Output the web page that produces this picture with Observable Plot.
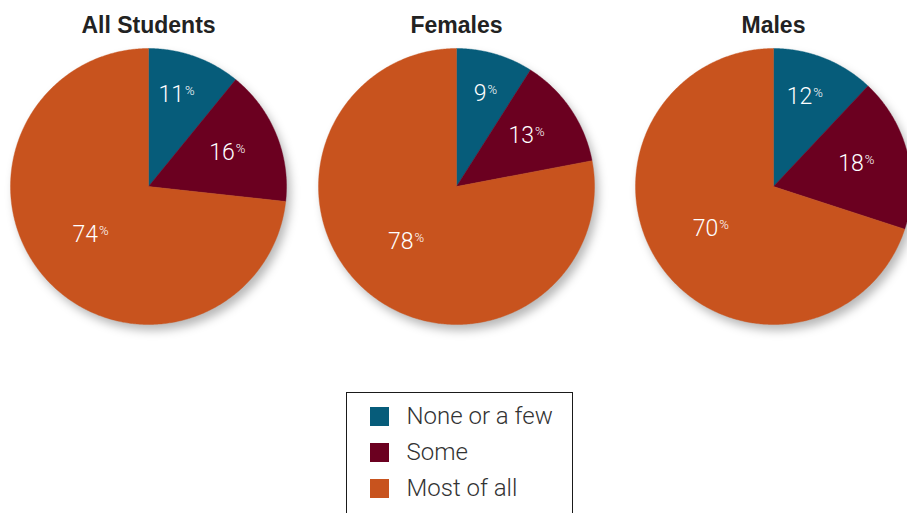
<!DOCTYPE html>
<html><head><meta charset="utf-8">
<script src="https://cdn.jsdelivr.net/npm/d3@7"></script>
<script src="https://cdn.jsdelivr.net/npm/@observablehq/plot@0.6"></script>
<style>
body{margin:0;background:#fff;overflow:hidden;width:907px;height:513px;position:relative}
#chart svg .shadow circle{filter:blur(5px)}
.legend{position:absolute;left:346px;top:392px;width:227px;height:140px;box-sizing:border-box;border:1.5px solid #1a1a1a;padding-top:5px;font-family:Roboto,"Liberation Sans",sans-serif;font-weight:300;font-size:24px;color:#333}
.legend .row{display:flex;align-items:center;height:36px}
.legend .sw{width:19px;height:19px;margin-left:22.5px;margin-right:18px;flex:none}
</style></head>
<body><div id="chart"></div><div class="legend" id="legend"></div>
<script>
// ---- data ----
const groups = ["All Students", "Females", "Males"];
const categories = ["None or a few", "Some", "Most of all"];
const noneOrAFew = [11, 9, 12];
const some = [16, 13, 18];
const mostOfAll = [74, 78, 70];
const colors = ["#065c7a", "#6b0020", "#c8531e"];

// ---- layout ----
const W = 907, H = 380;
const centersX = [148, 456, 773];
const centerY = 186;
const R = 138;
const labelR = [97, 90, 72];

const series = [noneOrAFew, some, mostOfAll];
const slices = [];   // polygon points
const labels = [];   // label anchor points
groups.forEach((g, gi) => {
  const vals = series.map(s => s[gi]);
  const arcs = d3.pie().sort(null)(vals);
  const cx = centersX[gi];
  arcs.forEach((a, ci) => {
    const key = g + "|" + ci;
    const cat = categories[ci];
    slices.push({key, cat, px: cx, py: centerY});
    const n = Math.max(2, Math.ceil((a.endAngle - a.startAngle) / 0.01));
    for (let k = 0; k <= n; k++) {
      const t = a.startAngle + (a.endAngle - a.startAngle) * k / n;
      slices.push({key, cat, px: cx + R * Math.sin(t), py: centerY - R * Math.cos(t)});
    }
    slices.push({key, cat, px: cx, py: centerY});
    const mid = (a.startAngle + a.endAngle) / 2;
    labels.push({
      cat, value: a.data,
      lx: cx + labelR[ci] * Math.sin(mid),
      ly: centerY - labelR[ci] * Math.cos(mid)
    });
  });
});

const font = "Roboto, 'Liberation Sans', sans-serif";
const chart = Plot.plot({
  width: W, height: H,
  margin: 0,
  x: {domain: [0, W], range: [0, W], axis: null},
  y: {domain: [0, H], range: [0, H], axis: null},
  color: {domain: categories, range: colors},
  style: {background: "white"},
  marks: [
    Plot.dot(groups, {x: (d, i) => centersX[i] + 4, y: centerY + 6, r: R, fill: "#000", fillOpacity: 0.28, stroke: null, className: "shadow"}),
    Plot.line(slices, {x: "px", y: "py", z: "key", fill: "cat", stroke: "cat", strokeWidth: 0.4, curve: "linear"}),
    Plot.text(groups, {x: (d, i) => centersX[i], y: 16, text: d => d, lineAnchor: "top", fontSize: 23, fontWeight: "bold", fontFamily: "'Liberation Sans', Arial, sans-serif", fill: "#222"}),
    Plot.text(labels, {x: "lx", y: "ly", text: d => String(d.value), textAnchor: "end", dx: 3, lineAnchor: "middle", fontSize: 23, fontWeight: 300, fontFamily: font, fill: "white"}),
    Plot.text(labels, {x: "lx", y: "ly", text: d => "%", textAnchor: "start", dx: 4, dy: -9, lineAnchor: "top", fontSize: 13, fontWeight: 300, fontFamily: font, fill: "white"})
  ]
});
document.getElementById("chart").append(chart);

const legend = document.getElementById("legend");
categories.forEach((c, i) => {
  const row = document.createElement("div");
  row.className = "row";
  const sw = document.createElement("span");
  sw.className = "sw";
  sw.style.background = colors[i];
  const tx = document.createElement("span");
  tx.textContent = c;
  row.append(sw, tx);
  legend.append(row);
});
</script></body></html>
